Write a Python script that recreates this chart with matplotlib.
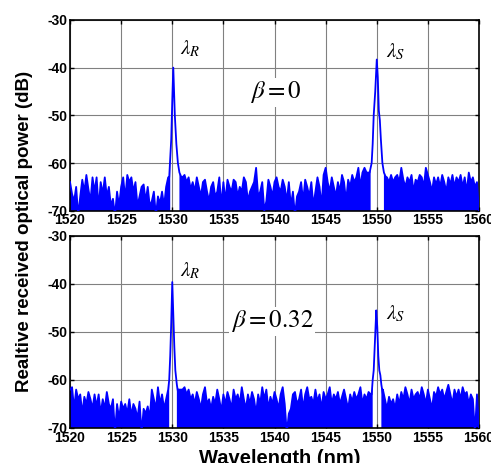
import numpy as np
import matplotlib
matplotlib.use("Agg")
import matplotlib.pyplot as plt

plt.rcParams['font.family'] = ['Liberation Sans', 'DejaVu Sans']
plt.rcParams['mathtext.fontset'] = 'stix'
plt.rcParams['axes.unicode_minus'] = False

# noise floor of the OSA trace, 0.2 nm steps from 1520 to 1560 nm
wl_noise = np.arange(1520, 1560.01, 0.2)

noise_b0 = [
    -64, -66.5, -68, -65, -71, -67, -63.5, -66, -62.5, -65.5,
    -68, -63, -66, -63, -69.5, -64, -66.5, -63, -67, -65,
    -69, -67.5, -71, -66, -69, -65, -63, -67.5, -62.5, -64,
    -63, -66, -64, -69, -67, -65, -64.5, -68, -65, -69,
    -68, -66, -71, -67, -68.5, -66, -69, -65, -63, -62.5,
    -62, -62, -62, -62, -62, -63, -62.5, -64, -63, -65.5,
    -64, -66, -63, -65, -67, -64, -63.5, -66, -68, -65,
    -64, -67, -66, -63, -69, -64, -68, -63.5, -65, -66,
    -63.5, -64, -67, -65, -66, -63, -64, -68, -66, -65,
    -64, -61, -67, -66, -64, -70, -68, -63.5, -65, -67,
    -64, -63, -65, -66, -63.5, -65, -68, -64, -69, -66,
    -71, -67, -66, -64, -68, -63.5, -65, -67, -64, -69,
    -66, -63, -65, -69, -62.5, -61, -64, -66, -63, -65,
    -67, -64, -66, -62.5, -64, -68, -63.5, -65, -62.5, -64,
    -63, -61, -65, -62, -61, -62, -62, -62, -62, -62,
    -62, -62, -62, -62, -62, -63, -64, -62.5, -64, -63,
    -62.5, -64, -61, -63.5, -65, -63, -64, -62.5, -66, -63.5,
    -64, -62.5, -63, -65, -61, -62.5, -64, -66, -63, -64.5,
    -63, -65, -62.5, -64, -66, -63, -64.5, -62.5, -65, -63,
    -64, -62.5, -65, -63, -66, -62, -64, -63, -65, -64,
    -70,
]

noise_b32 = [
    -62, -61.5, -66, -62, -64, -63, -67, -63.5, -65, -62.5,
    -64, -66, -63, -65.5, -63, -67, -64, -66, -62.5, -65,
    -66, -64, -71, -65, -68, -64.5, -66, -65, -67, -64,
    -67.5, -65, -66, -68, -64.5, -71, -66, -67, -65.5, -68,
    -62, -64, -66, -61.5, -65, -63, -66, -64, -62, -61.5,
    -62, -62, -62, -62, -62, -62, -61.5, -63, -62, -64,
    -63, -65, -62.5, -64, -66, -63, -61.5, -65, -64, -66,
    -63.5, -65, -62, -64, -66.5, -63, -65, -62.5, -64, -66,
    -62, -64, -63, -65, -61.5, -64, -66, -63, -65, -62.5,
    -64, -67, -63, -65, -61.5, -64, -62, -66, -63.5, -65,
    -62.5, -64, -66, -63, -61.5, -65, -71, -67, -66, -63,
    -62.5, -65, -64, -62, -66, -63, -61.5, -64, -63.5, -65,
    -62, -64.5, -63, -66, -62.5, -64, -63, -61.5, -65, -63,
    -64, -62.5, -65, -63.5, -62, -64, -66, -63, -64.5, -62.5,
    -64, -63, -61.5, -65, -63, -64, -62.5, -63, -62, -62,
    -62, -62, -62, -62, -64, -66, -63.5, -65, -64, -66,
    -63, -65, -62.5, -64, -61.5, -63, -65, -62, -64, -63,
    -62.5, -64, -61.5, -63, -65, -62, -64, -66, -62.5, -63.5,
    -61.5, -63, -62, -64, -62.5, -61, -63, -65, -62, -63.5,
    -62, -64, -61.5, -63, -62.5, -65, -63, -64, -71, -63,
    -70,
]

# laser lines (finer sampling)
pk_R0_wl = [1529.7, 1529.8, 1529.9, 1530.0, 1530.1, 1530.25, 1530.4, 1530.55, 1530.7, 1530.9]
pk_R0_db = [-63, -59, -55, -47, -40, -50, -56, -60, -62, -63]
pk_S0_wl = [1549.3, 1549.4, 1549.5, 1549.6, 1549.7, 1549.85, 1550.0, 1550.1, 1550.2,
            1550.3, 1550.4, 1550.55, 1550.7, 1550.9]
pk_S0_db = [-62, -61, -60, -56, -50, -45, -38.3, -42, -49, -51, -55, -60, -62, -63]

pk_R32_wl = [1529.6, 1529.7, 1529.8, 1529.9, 1530.0, 1530.1, 1530.2, 1530.3, 1530.45, 1530.6]
pk_R32_db = [-62, -60, -55, -48, -39.6, -46, -53, -58, -61, -63]
pk_S32_wl = [1549.5, 1549.6, 1549.7, 1549.8, 1549.9, 1549.95, 1550.05, 1550.15, 1550.25,
             1550.35, 1550.45, 1550.6]
pk_S32_db = [-63, -60, -58, -53, -48, -45.5, -49, -55, -58, -59, -61, -63]

panels = [
    (noise_b0, [(pk_R0_wl, pk_R0_db), (pk_S0_wl, pk_S0_db)], r'$\beta = 0$', (1540.1, -45.2),
     (1530.75, -37.3), (1550.95, -37.8)),
    (noise_b32, [(pk_R32_wl, pk_R32_db), (pk_S32_wl, pk_S32_db)], r'$\beta = 0.32$', (1539.8, -47.8),
     (1530.75, -38.5), (1550.95, -47.4)),
]

fig = plt.figure(figsize=(4.91, 4.63), dpi=100)
rects = [[0.1426, 0.5449, 0.833, 0.412], [0.1426, 0.0756, 0.833, 0.4147]]

for rect, (noise, peaks, beta_txt, beta_xy, lr_xy, ls_xy) in zip(rects, panels):
    ax = fig.add_axes(rect)
    x = np.array(wl_noise)
    y = np.array(noise, dtype=float)
    keep = np.ones_like(x, dtype=bool)
    for pw, _ in peaks:
        keep &= ~((x > pw[0] + 1e-6) & (x < pw[-1] - 1e-6))
    xs = np.concatenate([x[keep]] + [np.array(p[0]) for p in peaks])
    ys = np.concatenate([y[keep]] + [np.array(p[1]) for p in peaks])
    order = np.argsort(xs)
    xs, ys = xs[order], ys[order]
    infill = np.ones_like(xs, dtype=bool)
    for pw, _ in peaks:
        infill &= ~((xs > pw[1]) & (xs < pw[-2]))
    ax.fill_between(xs, ys, -75, where=infill, color='#0000ff', lw=0, zorder=2)
    ax.plot(xs, ys, color='#0000ff', lw=1.3, zorder=3)

    ax.set_xlim(1520, 1560)
    ax.set_ylim(-70, -30)
    ax.set_xticks(np.arange(1520, 1561, 5))
    ax.set_yticks(np.arange(-70, -29, 10))
    ax.grid(True, color='#808080', lw=0.8, zorder=0)
    ax.set_axisbelow(True)
    ax.tick_params(direction='in', top=True, right=True, length=3, width=1,
                   pad=2, labelsize=10)
    for lab in ax.get_xticklabels() + ax.get_yticklabels():
        lab.set_fontweight('bold')
    for sp in ax.spines.values():
        sp.set_linewidth(1.2)

    ax.text(*beta_xy, beta_txt, fontsize=18, ha='center', va='center', zorder=4,
            bbox=dict(facecolor='white', edgecolor='none', pad=1))
    ax.text(*lr_xy, r'$\lambda_R$', fontsize=15, ha='left', va='baseline', zorder=4)
    ax.text(*ls_xy, r'$\lambda_S$', fontsize=15, ha='left', va='baseline', zorder=4)

fig.text(0.049, 0.5, 'Realtive received optical power (dB)', rotation=90,
         ha='center', va='center', fontsize=13.5, fontweight='bold')
fig.text(0.57, -0.002, 'Wavelength (nm)', ha='center', va='baseline',
         fontsize=14.5, fontweight='bold')

fig.savefig('out.png', dpi=100)
